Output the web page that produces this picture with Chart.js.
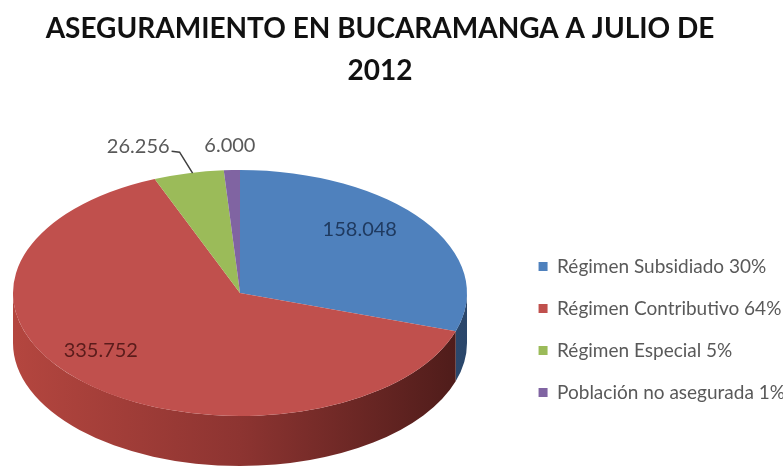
<!DOCTYPE html>
<html>
<head>
<meta charset="utf-8">
<script src="https://cdn.jsdelivr.net/npm/chart.js@4.4.1/dist/chart.umd.min.js"></script>
<style>
  html, body { margin: 0; padding: 0; background: #fff; }
  #wrap { width: 783px; height: 470px; }
</style>
</head>
<body>
<div id="wrap"><canvas id="charts"></canvas></div>
<script>
Chart.defaults.font.family = 'Lato';

const categories = ['Régimen Subsidiado', 'Régimen Contributivo', 'Régimen Especial', 'Población no asegurada'];
const afiliados = [158048, 335752, 26256, 6000];
const titleLines = ['ASEGURAMIENTO EN BUCARAMANGA A JULIO DE', '2012'];

const sliceColors = ['#4F81BD', '#C0504D', '#9BBB59', '#8064A2'];
// side wall shading, left -> right
const sideShades = [
  ['#4a77ad', '#3a6090', '#2a466a'],
  ['#b4463f', '#8d3431', '#4c1b19'],
  ['#8aa84f', '#6f8a3e', '#4d6029'],
  ['#71598f', '#5a4672', '#3e3050']
];

// where the flattened pie sits on the canvas
const tilt = { cx: 240, cy: 293, rx: 227, ry: 123, depth: 50 };

// value label placement per slice
const labelStyle = [
  { r: 0.74, shift: -0.15, color: '#1f3a60' },
  { r: 0.77, shift: 0.17, color: '#5a1c1b' },
  { outside: true, leader: true, color: '#595959' },
  { outside: true, leader: false, color: '#595959' }
];

function fmt(v) {
  return String(v).replace(/\B(?=(\d{3})+(?!\d))/g, '.');
}

// parts of [a0, a1] that face the viewer (canvas angles 0..PI)
function frontSpans(a0, a1) {
  const TAU = Math.PI * 2;
  const s = ((a0 % TAU) + TAU) % TAU;
  const e = s + (a1 - a0);
  const spans = [];
  [0, -TAU, TAU].forEach(k => {
    const lo = Math.max(s + k, 0), hi = Math.min(e + k, Math.PI);
    if (hi > lo) spans.push([lo, hi]);
  });
  return spans;
}

function onEllipse(angle, f) {
  return { x: tilt.cx + f * tilt.rx * Math.cos(angle), y: tilt.cy + f * tilt.ry * Math.sin(angle) };
}

const pie3d = {
  id: 'pie3d',
  beforeDatasetsDraw(chart) {
    const ctx = chart.ctx;
    const arcs = chart.getDatasetMeta(0).data;
    const { cx, cy, rx, ry, depth } = tilt;

    arcs.forEach((arc, i) => {
      frontSpans(arc.startAngle, arc.endAngle).forEach(([a0, a1]) => {
        const g = ctx.createLinearGradient(cx - rx, 0, cx + rx, 0);
        const shades = sideShades[i];
        shades.forEach((c, k) => g.addColorStop(k / (shades.length - 1), c));
        ctx.beginPath();
        ctx.ellipse(cx, cy, rx, ry, 0, a0, a1, false);
        ctx.ellipse(cx, cy + depth, rx, ry, 0, a1, a0, true);
        ctx.closePath();
        ctx.fillStyle = g;
        ctx.fill();
      });
    });

    // squash the library's circle into the top face
    const first = arcs[0];
    ctx.save();
    ctx.translate(cx, cy);
    ctx.scale(rx / first.outerRadius, ry / first.outerRadius);
    ctx.translate(-first.x, -first.y);
  },
  afterDatasetsDraw(chart) {
    const ctx = chart.ctx;
    ctx.restore();

    const arcs = chart.getDatasetMeta(0).data;
    ctx.save();
    ctx.font = '20px Lato';
    ctx.textBaseline = 'middle';
    arcs.forEach((arc, i) => {
      const st = labelStyle[i];
      const mid = (arc.startAngle + arc.endAngle) / 2;
      const text = fmt(afiliados[i]);
      ctx.fillStyle = st.color;
      if (!st.outside) {
        const p = onEllipse(mid + st.shift, st.r);
        ctx.textAlign = 'center';
        ctx.fillText(text, p.x, p.y);
        return;
      }
      const e = onEllipse(mid, 1);
      if (st.leader) {
        ctx.strokeStyle = '#404040';
        ctx.lineWidth = 1.5;
        ctx.beginPath();
        ctx.moveTo(e.x + 4, e.y);
        ctx.lineTo(e.x - 9, e.y - 21);
        ctx.lineTo(e.x - 17, e.y - 22);
        ctx.stroke();
        ctx.textAlign = 'right';
        ctx.fillText(text, e.x - 19, e.y - 27);
      } else {
        ctx.textAlign = 'center';
        ctx.fillText(text, e.x - 2, e.y - 25);
      }
    });
    ctx.restore();
  }
};

const total = afiliados.reduce((a, b) => a + b, 0);

new Chart(document.getElementById('charts'), {
  type: 'pie',
  data: {
    labels: categories,
    datasets: [{
      data: afiliados,
      backgroundColor: sliceColors,
      borderWidth: 0,
      clip: false
    }]
  },
  options: {
    responsive: true,
    maintainAspectRatio: false,
    animation: false,
    events: [],
    layout: { padding: { left: -35, right: -12, bottom: 45 } },
    plugins: {
      title: {
        display: true,
        text: titleLines,
        color: '#111111',
        font: { size: 28, weight: 'bold', lineHeight: 1.5 },
        padding: { top: 8, bottom: 10 }
      },
      legend: {
        position: 'right',
        align: 'end',
        labels: {
          boxWidth: 9,
          boxHeight: 9,
          padding: 23,
          color: '#595959',
          font: { size: 19 },
          generateLabels() {
            return categories.map((c, i) => ({
              text: c + ' ' + Math.round(afiliados[i] / total * 100) + '%',
              fillStyle: sliceColors[i],
              strokeStyle: sliceColors[i],
              lineWidth: 0,
              fontColor: '#595959',
              hidden: false,
              index: i
            }));
          }
        }
      },
      tooltip: { enabled: false }
    }
  },
  plugins: [pie3d]
});
</script>
</body>
</html>
